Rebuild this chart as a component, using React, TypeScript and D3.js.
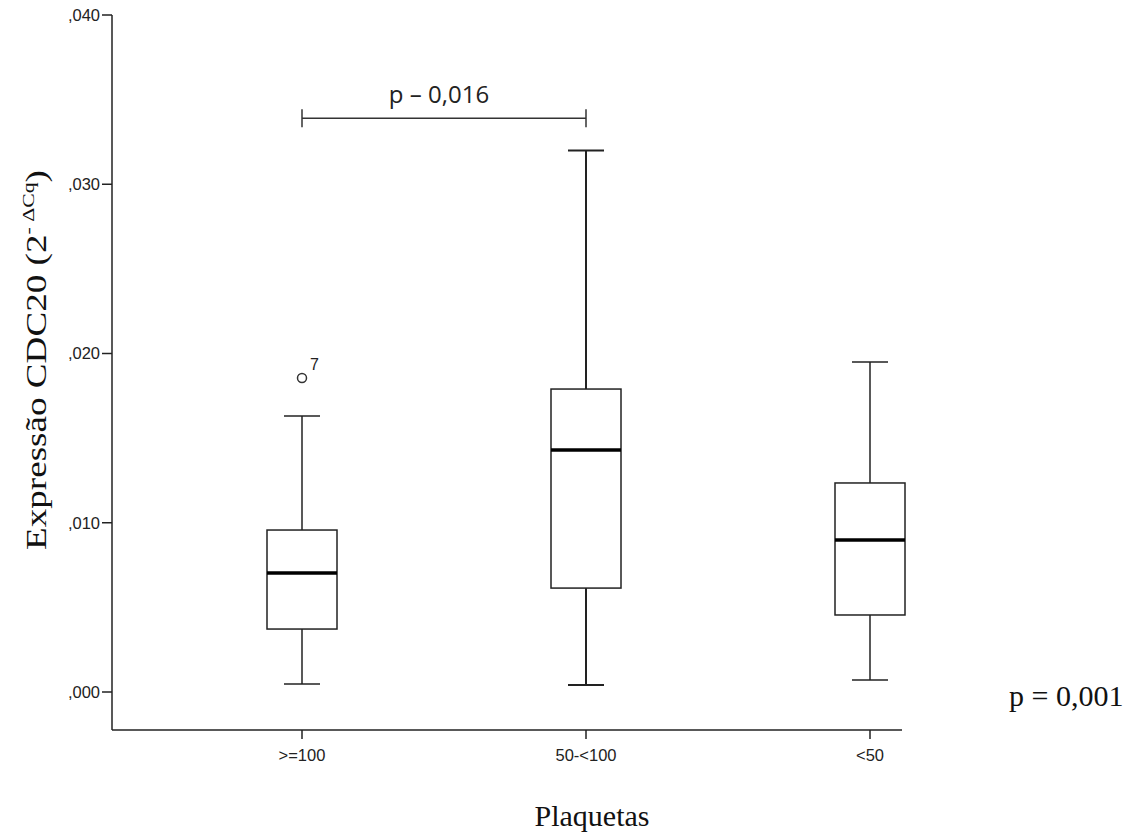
import React from 'react';
import * as d3 from 'd3';

const categories = ['>=100', '50-<100', '<50'];
const whiskerLow = [0.00047, 0.00041, 0.00071];
const q1 = [0.00372, 0.00614, 0.00455];
const median = [0.00703, 0.0143, 0.00898];
const q3 = [0.00957, 0.0179, 0.01235];
const whiskerHigh = [0.0163, 0.032, 0.0195];
const outliers = [{ cat: '>=100', value: 0.01855, label: '7' }];
const yTicks = [0, 0.01, 0.02, 0.03, 0.04];
const bracketValue = 0.0339;

const W = 1136;
const H = 835;
const SANS = 'Liberation Sans, Arial, sans-serif';
const SERIF = 'Liberation Serif, Times New Roman, serif';

const App = () => {
  const y = d3.scaleLinear().domain([0, 0.04]).range([692, 15]);
  const x = d3.scalePoint().domain(categories).range([302, 870]);
  const axisLeft = 112;
  const axisBottom = 730;
  const axisRight = 902;
  const boxHalf = 35;
  const capHalf = 18;
  const fmt = (v) => d3.format('.3f')(v).replace(/^0/, '').replace('.', ',');

  return (
    <svg width={W} height={H} style={{ position: 'absolute', left: 0, top: 0, background: '#fff' }}>
      {/* axes */}
      <line x1={axisLeft} x2={axisLeft} y1={y(0.04)} y2={axisBottom} stroke="#222" strokeWidth={1.5} />
      <line x1={axisLeft} x2={axisRight} y1={axisBottom} y2={axisBottom} stroke="#222" strokeWidth={1.5} />
      {yTicks.map((t) => (
        <g key={t}>
          <line x1={axisLeft - 10} x2={axisLeft} y1={y(t)} y2={y(t)} stroke="#222" strokeWidth={1.5} />
          <text x={axisLeft - 12} y={y(t)} dy="0.35em" textAnchor="end"
            fontFamily={SANS} fontSize={16.5} fill="#222">{fmt(t)}</text>
        </g>
      ))}
      {categories.map((c) => (
        <g key={c}>
          <line x1={x(c)} x2={x(c)} y1={axisBottom} y2={axisBottom + 9} stroke="#222" strokeWidth={1.5} />
          <text x={x(c)} y={axisBottom + 31} textAnchor="middle"
            fontFamily={SANS} fontSize={16.5} fill="#222">{c}</text>
        </g>
      ))}

      {/* boxes */}
      {categories.map((c, i) => {
        const cx = x(c);
        const sw = i === 1 ? 2 : 1.5;
        return (
          <g key={c} stroke="#222" fill="none">
            <line x1={cx} x2={cx} y1={y(whiskerLow[i])} y2={y(q1[i])} strokeWidth={sw} />
            <line x1={cx} x2={cx} y1={y(q3[i])} y2={y(whiskerHigh[i])} strokeWidth={sw} />
            <line x1={cx - capHalf} x2={cx + capHalf} y1={y(whiskerLow[i])} y2={y(whiskerLow[i])} strokeWidth={sw} />
            <line x1={cx - capHalf} x2={cx + capHalf} y1={y(whiskerHigh[i])} y2={y(whiskerHigh[i])} strokeWidth={sw} />
            <rect x={cx - boxHalf} y={y(q3[i])} width={boxHalf * 2} height={y(q1[i]) - y(q3[i])}
              fill="#fff" strokeWidth={1.5} />
            <line x1={cx - boxHalf} x2={cx + boxHalf} y1={y(median[i])} y2={y(median[i])} stroke="#000" strokeWidth={3.5} />
          </g>
        );
      })}

      {outliers.map((o) => (
        <g key={o.label}>
          <circle cx={x(o.cat)} cy={y(o.value)} r={4.5} fill="none" stroke="#333" strokeWidth={1.5} />
          <text x={x(o.cat) + 8} y={y(o.value) - 8} fontFamily={SANS}
            fontSize={16} fill="#222">{o.label}</text>
        </g>
      ))}

      {/* significance bracket */}
      <g stroke="#333" strokeWidth={1.5}>
        <line x1={x(categories[0])} x2={x(categories[1])} y1={y(bracketValue)} y2={y(bracketValue)} />
        <line x1={x(categories[0])} x2={x(categories[0])} y1={y(bracketValue) - 9} y2={y(bracketValue) + 9} />
        <line x1={x(categories[1])} x2={x(categories[1])} y1={y(bracketValue) - 9} y2={y(bracketValue) + 9} />
      </g>
      <text x={(x(categories[0]) + x(categories[1])) / 2 - 5} y={y(bracketValue) - 15} textAnchor="middle"
        fontFamily="Open Sans, sans-serif" fontSize={24} fill="#222">p – 0,016</text>

      <text x={1009} y={706} fontFamily={SERIF} fontSize={30} fill="#111">p = 0,001</text>

      {/* axis titles */}
      <text x={592} y={826} textAnchor="middle" fontFamily={SERIF}
        fontSize={30} fill="#111">Plaquetas</text>
      <text transform="translate(46,360) rotate(-90)" textAnchor="middle"
        fontFamily={SERIF} fontSize={29} fill="#111" textLength={380} lengthAdjust="spacingAndGlyphs">
        Expressão CDC20 (2<tspan fontSize={17} dy={-12}>- ΔCq</tspan><tspan dy={12}>)</tspan>
      </text>
    </svg>
  );
};

export default App;
